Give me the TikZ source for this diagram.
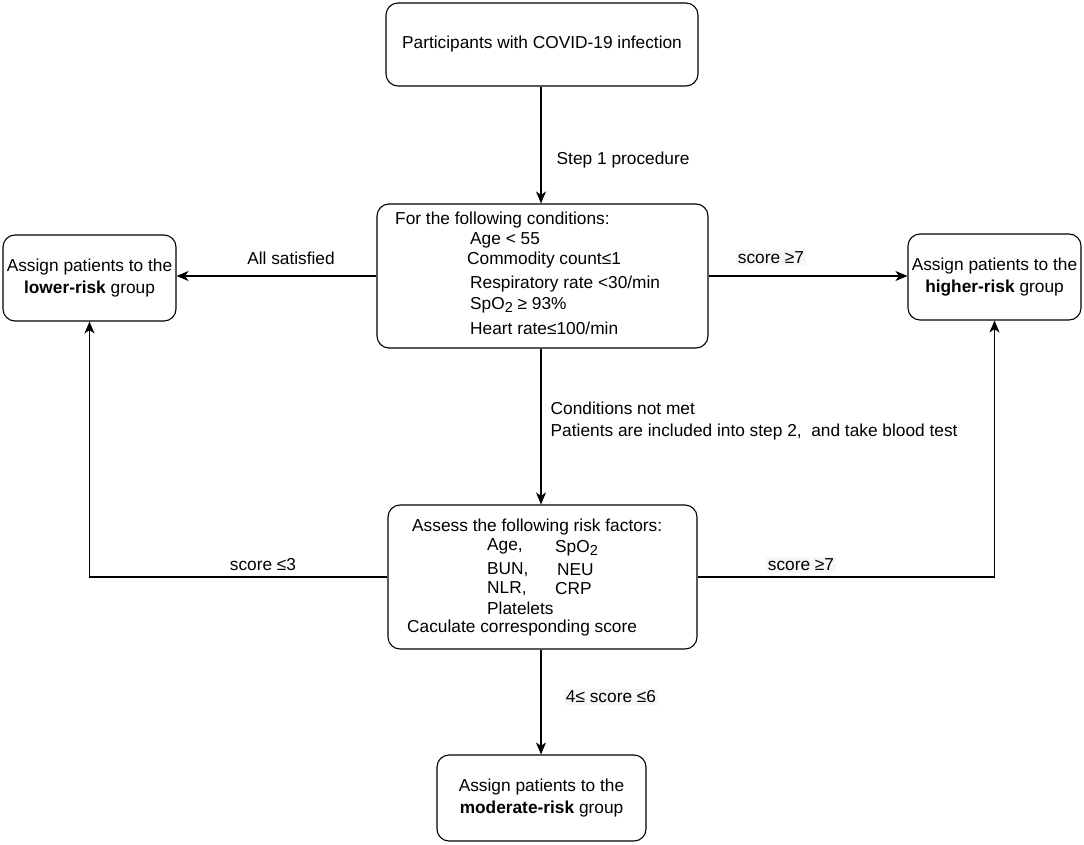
\documentclass[tikz,border=0pt]{standalone}
\usepackage{fontspec}
\setmainfont{Liberation Sans}
\usetikzlibrary{arrows.meta}
\newcommand{\subtwo}{\raisebox{-0.4ex}{\fontsize{14.5}{14.5}\selectfont 2}}
\begin{document}
\begin{tikzpicture}[x=1pt,y=-1pt,
  every node/.style={font=\fontsize{17.3}{22.5}\selectfont},
  box/.style={draw, line width=1.1pt, rounded corners=12pt, rectangle, inner sep=0pt},
  txt/.style={inner sep=0pt, anchor=west},
  lbl/.style={inner sep=1.5pt},
  lblbg/.style={inner sep=1.5pt, fill=black!3},
  arr/.style={line width=1.1pt, -{Stealth[length=12pt,width=10pt,inset=3.5pt]}}
]
\useasboundingbox (0,0) rectangle (1084,845);
% boxes
\node[box, minimum width=312pt, minimum height=83pt] (top) at (542,44.5) {Participants with COVID-19 infection};
\node[box, minimum width=331pt, minimum height=144pt] (mid) at (542.5,276) {};
\node[box, minimum width=173pt, minimum height=86pt, align=center] (low) at (89.5,278) {Assign patients to the\\\textbf{lower-risk} group};
\node[box, minimum width=173pt, minimum height=86pt, align=center] (high) at (994.5,277) {Assign patients to the\\\textbf{higher-risk} group};
\node[box, minimum width=309pt, minimum height=144pt] (assess) at (542.5,577) {};
\node[box, minimum width=209pt, minimum height=86pt, align=center] (mod) at (541.5,798) {Assign patients to the\\\textbf{moderate-risk} group};
% middle box text
\node[txt] (m1) at (395,220) {For the following conditions:};
\node[txt] (m2) at (470,240) {Age < 55};
\node[txt] (m3) at (467,260) {Commodity count≤1};
\node[txt] (m4) at (470,284) {Respiratory rate <30/min};
\node[txt] (m5) at (470,305) {SpO\subtwo{} ≥ 93\%};
\node[txt] (m6) at (470,328) {Heart rate≤100/min};
% assess box text
\node[txt] (a1) at (412,527) {Assess the following risk factors:};
\node[txt] (a2) at (487,546) {Age,};
\node[txt] (a3) at (555,548) {SpO\subtwo};
\node[txt] (a4) at (487,570) {BUN,};
\node[txt] (a5) at (557,570) {NEU};
\node[txt] (a6) at (487,589) {NLR,};
\node[txt] (a7) at (555,589) {CRP};
\node[txt] (a8) at (487,608) {Platelets};
\node[txt] (a9) at (407,628) {Caculate corresponding score};
% connectors
\draw[arr] (top.south -| 541,0) -- (mid.north -| 541,0);
\draw[arr] (mid.west) -- (mid.west -| low.east);
\draw[arr] (mid.east) -- (mid.east -| high.west);
\draw[arr] (mid.south -| 541,0) -- (assess.north -| 541,0);
\draw[arr] (assess.west) -| (low.south);
\draw[arr] (assess.east) -| (high.south);
\draw[arr] (assess.south -| 541,0) -- (mod.north -| 541,0);
% labels
\node[lbl, anchor=west] (l1) at (555,160) {Step 1 procedure};
\node[lbl] (l2) at (291,258) {All satisfied};
\node[lblbg] (l3) at (771,258) {score ≥7};
\node[lbl, anchor=west, align=left] (l4) at (549,421) {Conditions not met\\Patients are included into step 2,\ \ and take blood test};
\node[lbl] (l5) at (263,565) {score ≤3};
\node[lblbg] (l6) at (801,565) {score ≥7};
\node[lblbg] (l7) at (611,697) {4≤ score ≤6};
\end{tikzpicture}
\end{document}
